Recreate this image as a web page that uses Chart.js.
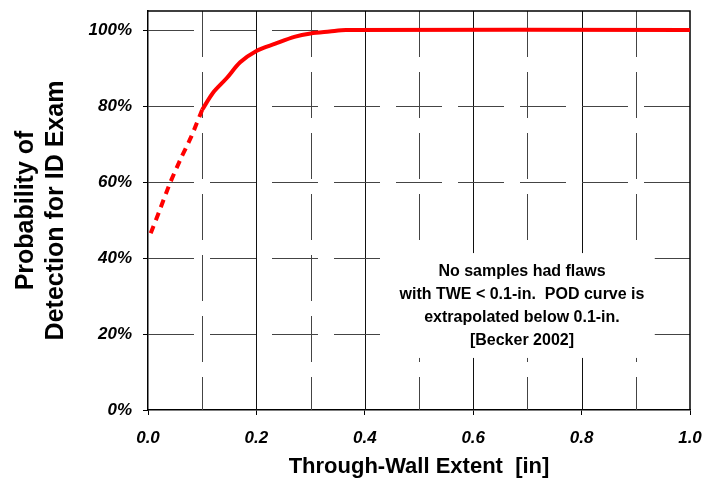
<!DOCTYPE html>
<html>
<head>
<meta charset="utf-8">
<script src="https://cdn.jsdelivr.net/npm/chart.js@4"></script>
<style>
  body { margin: 0; background: #fff; }
  canvas { display: block; }
</style>
</head>
<body>
<canvas id="podChart" width="702" height="483"></canvas>
<script>
  // extrapolated part of the POD curve (below 0.1 in)
  const extrapTwe = [0.005, 0.02, 0.04, 0.06, 0.08, 0.1];
  const extrapPod = [46.5, 52, 59.5, 66, 72, 79];

  // measured POD curve
  const podTwe = [0.1, 0.12, 0.145, 0.17, 0.2, 0.235, 0.27, 0.3, 0.335, 0.365, 1.0];
  const podVal = [79, 83.5, 87.3, 91.5, 94.5, 96.4, 98.2, 99.1, 99.6, 100, 100];

  const xTicks = [0, 0.2, 0.4, 0.6, 0.8, 1.0];
  const yTicks = [0, 20, 40, 60, 80, 100];
  const xGrid = [0.1, 0.2, 0.3, 0.4, 0.5, 0.6, 0.7, 0.8, 0.9];
  const yGrid = [20, 40, 60, 80, 100];

  const noteLines = [
    'No samples had flaws',
    'with TWE < 0.1-in.  POD curve is',
    'extrapolated below 0.1-in.',
    '[Becker 2002]'
  ];

  const toPoints = (xs, ys) => xs.map((x, i) => ({ x: x, y: ys[i] }));

  const gridPlugin = {
    id: 'gridPlugin',
    beforeDatasetsDraw(chart) {
      const c = chart.ctx, a = chart.chartArea;
      const xs = chart.scales.x, ys = chart.scales.y;
      c.save();
      c.lineWidth = 1;
      // vertical lines: solid on the labelled values, dashed in between
      xGrid.forEach((v, i) => {
        const px = Math.round(xs.getPixelForValue(v)) + 0.5;
        c.strokeStyle = i % 2 ? '#111' : '#444';
        c.setLineDash(i % 2 ? [] : [46, 15]);
        c.beginPath();
        c.moveTo(px, a.top);
        c.lineTo(px, a.bottom);
        c.stroke();
      });
      // horizontal dashed lines
      c.strokeStyle = '#444';
      c.setLineDash([46, 16]);
      yGrid.forEach(v => {
        const py = Math.round(ys.getPixelForValue(v)) + 0.5;
        c.beginPath();
        c.moveTo(a.left, py);
        c.lineTo(a.right, py);
        c.stroke();
      });
      // frame top / right
      c.setLineDash([]);
      c.strokeStyle = '#000';
      c.lineWidth = 1.5;
      c.beginPath();
      c.moveTo(a.left, a.top);
      c.lineTo(a.right, a.top);
      c.lineTo(a.right, a.bottom);
      c.stroke();
      c.restore();
    },
    afterDatasetsDraw(chart) {
      const c = chart.ctx;
      const xs = chart.scales.x, ys = chart.scales.y;
      const bx0 = xs.getPixelForValue(0.43), bx1 = xs.getPixelForValue(0.935);
      const by0 = ys.getPixelForValue(41.3), by1 = ys.getPixelForValue(13.7);
      c.save();
      c.fillStyle = '#fff';
      c.fillRect(bx0, by0, bx1 - bx0, by1 - by0);
      c.fillStyle = '#000';
      c.font = 'bold 16px "Liberation Sans", Arial, sans-serif';
      c.textAlign = 'center';
      c.textBaseline = 'middle';
      const cx = xs.getPixelForValue(0.69);
      const cy = ys.getPixelForValue(36.3);
      noteLines.forEach((t, i) => c.fillText(t, cx, cy + i * 22.7));
      c.restore();
    }
  };

  new Chart(document.getElementById('podChart'), {
    type: 'line',
    data: {
      datasets: [
        {
          label: 'Extrapolated',
          data: toPoints(extrapTwe, extrapPod),
          borderColor: '#ff0000',
          borderWidth: 4,
          borderDash: [8, 6],
          pointRadius: 0,
          tension: 0.2,
          fill: false
        },
        {
          label: 'POD',
          data: toPoints(podTwe, podVal),
          borderColor: '#ff0000',
          borderWidth: 4,
          pointRadius: 0,
          tension: 0.3,
          fill: false
        }
      ]
    },
    options: {
      responsive: false,
      animation: false,
      layout: { padding: { top: 11, right: 12, left: 0, bottom: 0 } },
      plugins: {
        legend: { display: false },
        tooltip: { enabled: false }
      },
      scales: {
        x: {
          type: 'linear',
          min: 0,
          max: 1,
          afterBuildTicks: s => { s.ticks = xTicks.map(v => ({ value: v })); },
          afterFit: s => { s.height = 73; s.paddingLeft = 0; s.paddingRight = 0; },
          grid: { drawOnChartArea: false, drawTicks: true, tickLength: 5, color: '#000' },
          border: { display: true, color: '#000', width: 1.5 },
          ticks: {
            padding: 13,
            maxRotation: 0,
            autoSkip: false,
            color: '#000',
            font: { family: '"Liberation Sans", Arial, sans-serif', size: 17, weight: 'bold', style: 'italic' },
            callback: v => Number(v).toFixed(1)
          },
          title: {
            display: true,
            text: 'Through-Wall Extent  [in]',
            color: '#000',
            font: { family: '"Liberation Sans", Arial, sans-serif', size: 22, weight: 'bold' },
            padding: { top: 0, bottom: 3 }
          }
        },
        y: {
          min: 0,
          max: 105,
          afterBuildTicks: s => { s.ticks = yTicks.map(v => ({ value: v })); },
          afterFit: s => { s.width = 148; s.paddingTop = 0; s.paddingBottom = 0; },
          grid: { drawOnChartArea: false, drawTicks: true, tickLength: 5, color: '#000' },
          border: { display: true, color: '#000', width: 1.5 },
          ticks: {
            padding: 11,
            color: '#000',
            font: { family: '"Liberation Sans", Arial, sans-serif', size: 17, weight: 'bold', style: 'italic' },
            callback: v => v + '%'
          },
          title: {
            display: true,
            text: ['Probability of', 'Detection for ID Exam'],
            color: '#000',
            font: { family: '"Liberation Sans", Arial, sans-serif', size: 25, weight: 'bold' },
            padding: { top: 11, bottom: 0 }
          }
        }
      }
    },
    plugins: [gridPlugin]
  });
</script>
</body>
</html>
